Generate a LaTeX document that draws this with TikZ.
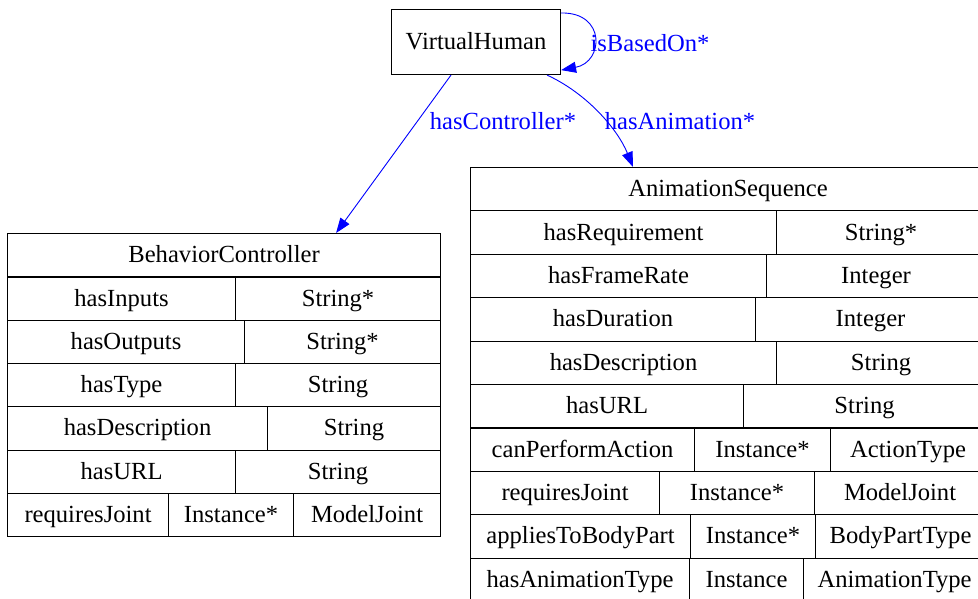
\documentclass[tikz,border=0pt]{standalone}
\usepackage{fontspec}
\setmainfont{Liberation Serif}
\usetikzlibrary{arrows.meta}

\tikzset{
  cell/.style={draw, line width=1.1pt, inner sep=0pt, anchor=north west, minimum height=43.4pt,
    text height=20pt, text depth=5pt},
  edge/.style={blue, line width=0.9pt, -{Triangle[length=15pt,width=11pt]}},
  lbl/.style={text=blue, inner sep=0pt},
}

\begin{document}
\begin{tikzpicture}[x=1pt, y=-1pt, font=\fontsize{24.6}{28}\selectfont]
\clip (0,0) rectangle (978,599);

% --- Top class ---
\node[cell, minimum width=169pt, minimum height=65pt] (vh) at (391,9) {VirtualHuman};

% --- Left table ---
\node[cell, minimum width=433pt] (bc) at (7,233) {BehaviorController};
\node[cell, minimum width=228pt] (bc11) at (7,276.3) {hasInputs};
\node[cell, minimum width=205pt] (bc12) at (235,276.3) {String*};
\node[cell, minimum width=237pt] (bc21) at (7,319.6) {hasOutputs};
\node[cell, minimum width=196pt] (bc22) at (244,319.6) {String*};
\node[cell, minimum width=228pt] (bc31) at (7,362.9) {hasType};
\node[cell, minimum width=205pt] (bc32) at (235,362.9) {String};
\node[cell, minimum width=260pt] (bc41) at (7,406.2) {hasDescription};
\node[cell, minimum width=173pt] (bc42) at (267,406.2) {String};
\node[cell, minimum width=228pt] (bc51) at (7,449.5) {hasURL};
\node[cell, minimum width=205pt] (bc52) at (235,449.5) {String};
\node[cell, minimum width=161pt] (bc61) at (7,492.8) {requiresJoint};
\node[cell, minimum width=125pt] (bc62) at (168,492.8) {Instance*};
\node[cell, minimum width=147pt] (bc63) at (293,492.8) {ModelJoint};

% --- Right table ---
\node[cell, minimum width=515pt] (as) at (470,167) {AnimationSequence};
\node[cell, minimum width=306pt] (as11) at (470,210.4) {hasRequirement};
\node[cell, minimum width=209pt] (as12) at (776,210.4) {String*};
\node[cell, minimum width=296pt] (as21) at (470,253.8) {hasFrameRate};
\node[cell, minimum width=219pt] (as22) at (766,253.8) {Integer};
\node[cell, minimum width=285pt] (as31) at (470,297.2) {hasDuration};
\node[cell, minimum width=230pt] (as32) at (755,297.2) {Integer};
\node[cell, minimum width=306pt] (as41) at (470,340.6) {hasDescription};
\node[cell, minimum width=209pt] (as42) at (776,340.6) {String};
\node[cell, minimum width=273pt] (as51) at (470,384) {hasURL};
\node[cell, minimum width=242pt] (as52) at (743,384) {String};
\node[cell, minimum width=224pt] (as61) at (470,427.4) {canPerformAction};
\node[cell, minimum width=136pt] (as62) at (694,427.4) {Instance*};
\node[cell, minimum width=155pt] (as63) at (830,427.4) {ActionType};
\node[cell, minimum width=189pt] (as71) at (470,470.8) {requiresJoint};
\node[cell, minimum width=155pt] (as72) at (659,470.8) {Instance*};
\node[cell, minimum width=171pt] (as73) at (814,470.8) {ModelJoint};
\node[cell, minimum width=220pt] (as81) at (470,514.2) {appliesToBodyPart};
\node[cell, minimum width=125pt] (as82) at (690,514.2) {Instance*};
\node[cell, minimum width=170pt] (as83) at (815,514.2) {BodyPartType};
\node[cell, minimum width=219pt] (as91) at (470,557.6) {hasAnimationType};
\node[cell, minimum width=114pt] (as92) at (689,557.6) {Instance};
\node[cell, minimum width=182pt] (as93) at (803,557.6) {AnimationType};

% --- Edges ---
\draw[edge] ([yshift=-4pt]vh.north east) .. controls (606,12) and (604,62) .. ([yshift=5pt]vh.south east);
\draw[edge] ([xshift=60pt]vh.south west) -- ([xshift=-105pt]bc.north east);
\draw[edge] ([xshift=-14pt]vh.south east) .. controls (588,94) and (618,130) .. ([xshift=163pt]as.north west);

% --- Edge labels ---
\node[lbl] (l1) at (650,43) {isBasedOn*};
\node[lbl] (l2) at (503,121) {hasController*};
\node[lbl] (l3) at (680,121) {hasAnimation*};

\end{tikzpicture}
\end{document}
